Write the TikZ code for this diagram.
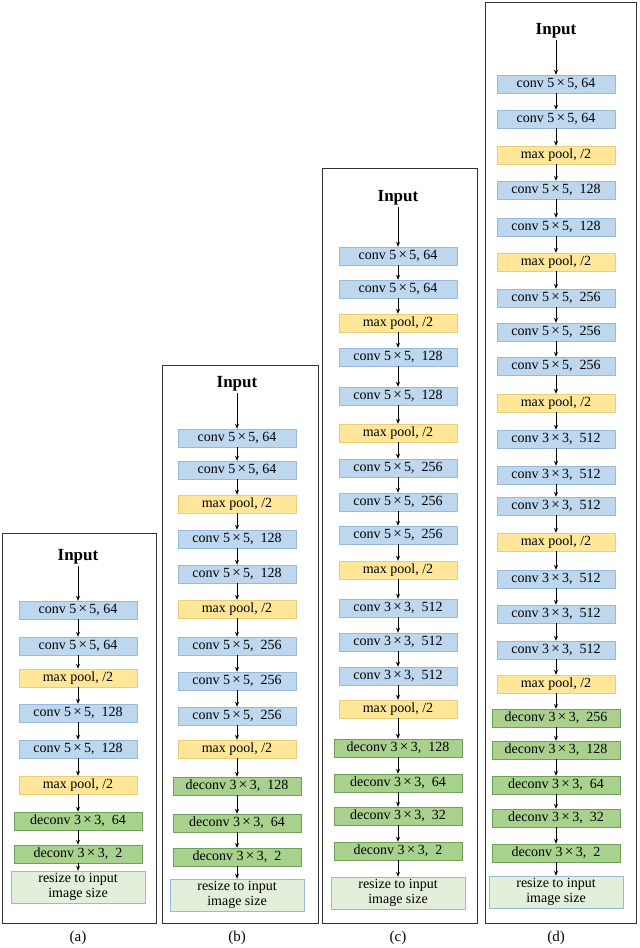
\documentclass[tikz,border=0pt]{standalone}
\usepackage{fontspec}
\setmainfont{Liberation Serif}
\usetikzlibrary{arrows.meta}
\definecolor{cblue}{RGB}{189,215,238}
\definecolor{cblueb}{RGB}{150,185,220}
\definecolor{cyel}{RGB}{255,230,153}
\definecolor{cyelb}{RGB}{235,205,120}
\definecolor{cgrn}{RGB}{169,209,142}
\definecolor{cgrnb}{RGB}{110,160,90}
\definecolor{clgrn}{RGB}{226,239,218}
\newcommand\tms{\,{\fontsize{15}{15}\selectfont ×}\,}
\tikzset{
 base/.style={inner sep=0pt,font=\fontsize{14}{14}\selectfont},
 cv/.style={base,fill=cblue,draw=cblueb,minimum width=118pt,minimum height=18pt},
 mp/.style={base,fill=cyel,draw=cyelb,minimum width=118pt,minimum height=18pt},
 dc/.style={base,fill=cgrn,draw=cgrnb,minimum width=128pt,minimum height=18pt},
 rs/.style={base,fill=clgrn,draw=cblueb,minimum width=134pt,minimum height=32pt,align=center,font=\fontsize{14}{15.5}\selectfont},
 inp/.style={font=\bfseries\fontsize{17}{17}\selectfont,inner sep=1pt},
 frame/.style={draw=black!80,line width=0.9pt},
 arr/.style={-{Stealth[length=5pt,width=4pt]},line width=0.8pt},
 capt/.style={font=\fontsize{15}{15}\selectfont}
}
\newcommand\mkpanel[6]{% id, cx, inputy, unused, caption text, list
 \node[inp] (#10) at (#2,#3) {Input};
 \foreach \yy/\st/\tx [count=\k] in {#6} {
   \node[\st] (#1\k) at (#2,\yy) {\tx};
   \pgfmathtruncatemacro\pk{\k-1}
   \draw[arr] (#1\pk) -- (#1\k);
 }
 \node[capt] (#1cap) at (#2,938) {#5};
}
\begin{document}
\begin{tikzpicture}[x=1pt,y=-1pt]
\useasboundingbox (0,0) rectangle (640,948);
\draw[frame] (2,533) rectangle (156,923);
\draw[frame] (162,365) rectangle (318,923);
\draw[frame] (322,168) rectangle (477,923);
\draw[frame] (485,2) rectangle (636,923);
\mkpanel{a}{78}{557}{}{(a)}{
610/cv/{conv 5\tms5, 64},646/cv/{conv 5\tms5, 64},678/mp/{max pool, /2},
713/cv/{conv 5\tms5,\ \ 128},749/cv/{conv 5\tms5,\ \ 128},785/mp/{max pool, /2},
821/dc/{deconv 3\tms3,\ \ 64},854/dc/{deconv 3\tms3,\ \ 2},887/rs/{resize to input\\image size}}
\mkpanel{b}{237}{384}{}{(b)}{
438/cv/{conv 5\tms5, 64},470/cv/{conv 5\tms5, 64},504/mp/{max pool, /2},
539/cv/{conv 5\tms5,\ \ 128},574/cv/{conv 5\tms5,\ \ 128},609/mp/{max pool, /2},
646/cv/{conv 5\tms5,\ \ 256},681/cv/{conv 5\tms5,\ \ 256},716/cv/{conv 5\tms5,\ \ 256},
749/mp/{max pool, /2},786/dc/{deconv 3\tms3,\ \ 128},823/dc/{deconv 3\tms3,\ \ 64},
857/dc/{deconv 3\tms3,\ \ 2},895/rs/{resize to input\\image size}}
\mkpanel{c}{398}{198}{}{(c)}{
256/cv/{conv 5\tms5, 64},289/cv/{conv 5\tms5, 64},323/mp/{max pool, /2},
357/cv/{conv 5\tms5,\ \ 128},396/cv/{conv 5\tms5,\ \ 128},433/mp/{max pool, /2},
468/cv/{conv 5\tms5,\ \ 256},502/cv/{conv 5\tms5,\ \ 256},535/cv/{conv 5\tms5,\ \ 256},
570/mp/{max pool, /2},608/cv/{conv 3\tms3,\ \ 512},642/cv/{conv 3\tms3,\ \ 512},
676/cv/{conv 3\tms3,\ \ 512},709/mp/{max pool, /2},
748/dc/{deconv 3\tms3,\ \ 128},783/dc/{deconv 3\tms3,\ \ 64},816/dc/{deconv 3\tms3,\ \ 32},
851/dc/{deconv 3\tms3,\ \ 2},893/rs/{resize to input\\image size}}
\mkpanel{d}{556}{31}{}{(d)}{
84/cv/{conv 5\tms5, 64},119/cv/{conv 5\tms5, 64},155/mp/{max pool, /2},
190/cv/{conv 5\tms5,\ \ 128},227/cv/{conv 5\tms5,\ \ 128},262/mp/{max pool, /2},
298/cv/{conv 5\tms5,\ \ 256},332/cv/{conv 5\tms5,\ \ 256},366/cv/{conv 5\tms5,\ \ 256},
403/mp/{max pool, /2},439/cv/{conv 3\tms3,\ \ 512},475/cv/{conv 3\tms3,\ \ 512},
506/cv/{conv 3\tms3,\ \ 512},542/mp/{max pool, /2},579/cv/{conv 3\tms3,\ \ 512},
614/cv/{conv 3\tms3,\ \ 512},650/cv/{conv 3\tms3,\ \ 512},684/mp/{max pool, /2},
718/dc/{deconv 3\tms3,\ \ 256},750/dc/{deconv 3\tms3,\ \ 128},785/dc/{deconv 3\tms3,\ \ 64},
818/dc/{deconv 3\tms3,\ \ 32},853/dc/{deconv 3\tms3,\ \ 2},892/rs/{resize to input\\image size}}
\end{tikzpicture}
\end{document}
